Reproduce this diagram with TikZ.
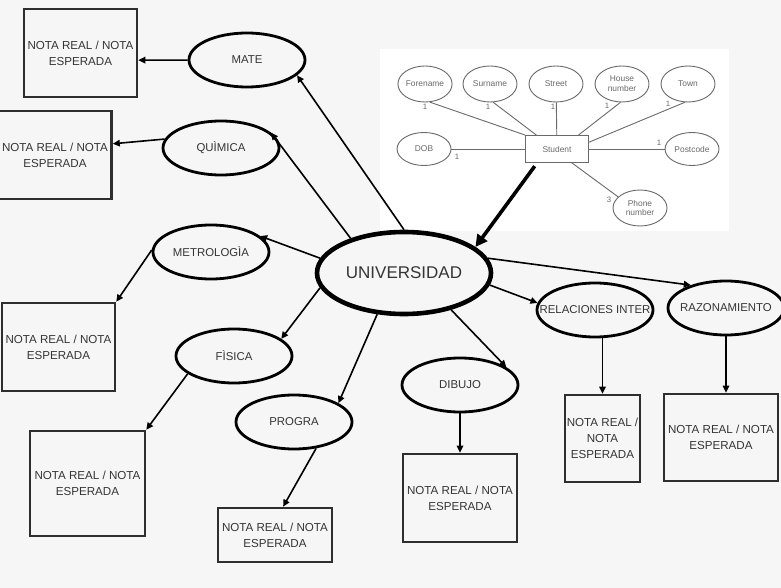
\documentclass[tikz,border=0pt]{standalone}
\usepackage{fontspec}
\setmainfont{Liberation Sans}
\usetikzlibrary{arrows.meta}
\usetikzlibrary{shapes.geometric}
\usetikzlibrary{calc}

\definecolor{txt}{HTML}{353535}
\definecolor{frame}{HTML}{2E2E2E}
\definecolor{ergray}{HTML}{6A6A6A}
\definecolor{bg}{HTML}{F6F6F6}

\newcommand{\zw}[1]{\makebox[0pt]{#1}}

\tikzset{
  subj/.style={ellipse, draw=black, line width=2.8pt, minimum width=116pt, minimum height=54pt,
    inner sep=0pt, text=txt, font=\fontsize{11.4}{13}\selectfont},
  nota/.style={draw=frame, line width=2.6pt, inner sep=0pt, align=center, text=txt,
    font=\fontsize{11.6}{15.8}\selectfont},
  attr/.style={ellipse, draw=ergray, line width=0.9pt, minimum width=54pt, minimum height=36pt,
    inner sep=0pt, align=center, text=ergray, font=\fontsize{8.4}{9.8}\selectfont},
  card/.style={text=ergray, inner sep=0pt, font=\fontsize{7.8}{8}\selectfont},
  link/.style={-{Triangle[length=7pt,width=6.5pt]}, line width=1.6pt},
  erline/.style={draw=ergray, line width=0.9pt}
}

\begin{document}
\begin{tikzpicture}[x=1pt, y=-1pt]
		\useasboundingbox (0,0) rectangle (781,588);
		\fill[bg] (0,0) rectangle (781,588);
		\fill[white] (380,49) rectangle (729,231);

		% entity-relation sketch
		\node[attr] (forename) at (425,84) {Forename};
		\node[attr] (surname) at (490,84) {Surname};
		\node[attr] (street) at (556,84) {Street};
		\node[attr] (housenum) at (622,84) {House\\number};
		\node[attr] (town) at (688,84) {Town};
		\node[attr, minimum height=33pt] (dob) at (424,149) {DOB};
		\node[attr, minimum height=33pt] (postcode) at (692,149) {Postcode};
		\node[attr] (phone) at (640,208) {Phone\\number};
		\node[draw=ergray, line width=0.9pt, minimum width=63pt, minimum height=27pt, inner sep=0pt,
			text=ergray, font=\fontsize{8.4}{9.8}\selectfont] (student) at (557,149) {Student};

		\draw[erline] (forename.-75) -- (student.north west);
		\draw[erline] (surname.-80) -- (student.146);
		\draw[erline] (street) -- (student);
		\draw[erline] (housenum.-95) -- (student.33);
		\draw[erline] (town.-100) -- (student.12);
		\draw[erline] (dob) -- (student);
		\draw[erline] (student) -- (postcode);
		\draw[erline] (student.-43) -- (phone.153);

		\node[card] (c1) at (425,107) {1};
		\node[card] (c2) at (488,107) {1};
		\node[card] (c3) at (553,107) {1};
		\node[card] (c4) at (607,106) {1};
		\node[card] (c5) at (668,104) {1};
		\node[card] (c6) at (457,157) {1};
		\node[card] (c7) at (659,143) {1};
		\node[card] (c8) at (609,200) {3};

		% mapa principal
		\node[subj, line width=4.6pt, minimum width=174pt, minimum height=82pt,
			font=\fontsize{17}{20}\selectfont] (univ) at (404,273) {UNIVERSIDAD};
		\node[subj] (mate) at (247,60) {\zw{MATE}};
		\node[subj] (quim) at (221,148) {\zw{QUÌMICA}};
		\node[subj] (metro) at (211,252) {\zw{METROLOGÌA}};
		\node[subj] (fis) at (234,356) {\zw{FÌSICA}};
		\node[subj] (progra) at (294,422) {\zw{PROGRA}};
		\node[subj] (dibujo) at (460,385) {\zw{DIBUJO}};
		\node[subj] (relinter) at (595,310) {\zw{RELACIONES INTER}};
		\node[subj] (razon) at (726,308) {\zw{RAZONAMIENTO}};

		\node[nota, minimum width=113pt, minimum height=88pt] (nmate) at (80.5,53) {NOTA REAL / NOTA\\ESPERADA};
		\node[nota, minimum width=113pt, minimum height=88pt] (nquim) at (55,155) {NOTA REAL / NOTA\\ESPERADA};
		\node[nota, minimum width=113pt, minimum height=88pt] (nmetro) at (58.5,347) {NOTA REAL / NOTA\\ESPERADA};
		\node[nota, minimum width=115pt, minimum height=105pt] (nfis) at (87.5,483.5) {NOTA REAL / NOTA\\ESPERADA};
		\node[nota, minimum width=114pt, minimum height=54pt] (nprogra) at (275,535) {NOTA REAL / NOTA\\ESPERADA};
		\node[nota, minimum width=114pt, minimum height=88pt] (ndibujo) at (460,498) {NOTA REAL / NOTA\\ESPERADA};
		\node[nota, minimum width=75pt, minimum height=87pt] (nrelinter) at (602.5,438.5) {NOTA REAL /\\NOTA\\ESPERADA};
		\node[nota, minimum width=114pt, minimum height=87pt] (nrazon) at (721,437.5) {NOTA REAL / NOTA\\ESPERADA};

		\draw[-{Triangle[length=12pt,width=12pt]}, line width=3.6pt, shorten <=4pt] (student.-145) -- (univ.20);

		\draw[link] (univ.90) -- (mate.-17);
		\draw[link] (univ.147) -- (quim.17);
		\draw[link] (univ.170) -- (metro.18);
		\draw[link] (univ.190) -- (fis.20);
		\draw[link] (univ.237) -- (progra.23);
		\draw[link] (univ.-38) -- (dibujo.21);
		\draw[link] (univ.-8) -- (relinter.173);
		\draw[link] (univ.10) -- (razon.147);

		\draw[link] (mate) -- (nmate.-7);
		\draw[link] (quim.171) -- (nquim.11);
		\draw[link] (metro.178) -- (nmetro.north east);
		\draw[link] (fis.201) -- (nfis.north east);
		\draw[link] (progra.-50) -- (nprogra.74);
		\draw[link] (dibujo) -- (ndibujo);
		\draw[link] (nrelinter.north |- relinter.south) -- (nrelinter.north);
		\draw[link] (razon.south) -- (razon.south |- nrazon.north);
	\end{tikzpicture}
\end{document}
